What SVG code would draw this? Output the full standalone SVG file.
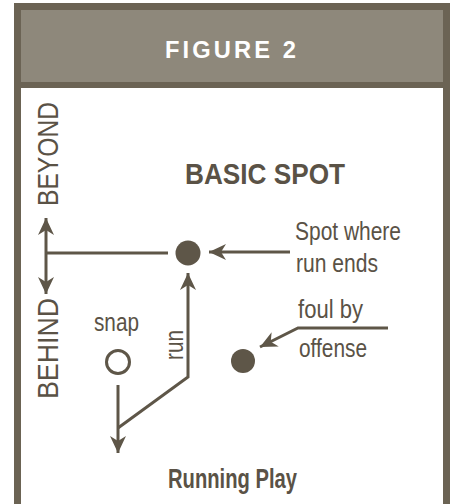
<svg xmlns="http://www.w3.org/2000/svg" width="450" height="504" viewBox="0 0 450 504">
<style>
.t{font-family:"Liberation Sans",Arial,sans-serif;fill:#5a5246}
.b{font-weight:bold}
.ln{fill:none;stroke:#5e5648;stroke-width:3;stroke-linejoin:miter}
.dot{fill:#5e5648}
</style>
<defs>
<marker id="ah" markerUnits="userSpaceOnUse" markerWidth="20" markerHeight="20" viewBox="-18 -9 20 18" refX="0" refY="0" orient="auto-start-reverse">
<path d="M0,0 L-17,-8 L-12,0 L-17,8 Z" fill="#5e5648"/>
</marker>
</defs>
<rect width="450" height="504" fill="#ffffff"/>
<g id="frame">
<rect x="14" y="3" width="436" height="85" fill="#6b6354"/>
<rect x="21" y="10" width="422" height="72" fill="#8e887b"/>
<rect x="14" y="88" width="7" height="416" fill="#6b6354"/>
<rect x="443" y="88" width="7" height="416" fill="#6b6354"/>
<text x="165" y="57.5" font-family="Liberation Sans, Arial, sans-serif" font-weight="bold" font-size="23" letter-spacing="3" fill="#ffffff" textLength="134" lengthAdjust="spacingAndGlyphs">FIGURE 2</text>
</g>
<g id="title"><text class="t b" x="185" y="184" font-size="30" textLength="160" lengthAdjust="spacingAndGlyphs">BASIC SPOT</text></g>
<g id="beyond"><text class="t" transform="translate(58,206) rotate(-90)" font-size="30" textLength="104" lengthAdjust="spacingAndGlyphs">BEYOND</text></g>
<g id="behind"><text class="t" transform="translate(58,399) rotate(-90)" font-size="30" textLength="101" lengthAdjust="spacingAndGlyphs">BEHIND</text></g>
<g id="spot"><circle class="dot" cx="188" cy="253" r="12.5"/></g>
<g id="spot-label">
<text class="t" x="295" y="240" font-size="25" textLength="106" lengthAdjust="spacingAndGlyphs">Spot where</text>
<text class="t" x="296" y="272" font-size="25" textLength="82" lengthAdjust="spacingAndGlyphs">run ends</text>
</g>
<g id="foul"><circle class="dot" cx="243" cy="361" r="12"/></g>
<g id="foul-label">
<text class="t" x="298" y="318" font-size="25" textLength="65" lengthAdjust="spacingAndGlyphs">foul by</text>
<text class="t" x="299" y="357" font-size="25" textLength="68" lengthAdjust="spacingAndGlyphs">offense</text>
</g>
<g id="snap"><circle cx="118" cy="362" r="11.5" fill="none" stroke="#5e5648" stroke-width="3"/>
<text class="t" x="94" y="331" font-size="25" textLength="45" lengthAdjust="spacingAndGlyphs">snap</text></g>
<g id="run-label"><text class="t" transform="translate(183,360) rotate(-90)" font-size="25" textLength="30" lengthAdjust="spacingAndGlyphs">run</text></g>
<g id="caption"><text class="t b" x="168" y="488" font-size="28" textLength="129" lengthAdjust="spacingAndGlyphs">Running Play</text></g>
<g id="connectors">
<line class="ln" x1="46" y1="218" x2="46" y2="294" marker-start="url(#ah)" marker-end="url(#ah)"/>
<line class="ln" x1="46" y1="253" x2="168" y2="253"/>
<line class="ln" x1="290" y1="252" x2="209" y2="252" marker-end="url(#ah)"/>
<polyline class="ln" points="388,328 298,328 260,347" marker-end="url(#ah)"/>
<line class="ln" x1="118" y1="385" x2="118" y2="453" marker-end="url(#ah)"/>
<polyline class="ln" points="118,428 188,377 188,273" marker-end="url(#ah)"/>
</g>
</svg>
